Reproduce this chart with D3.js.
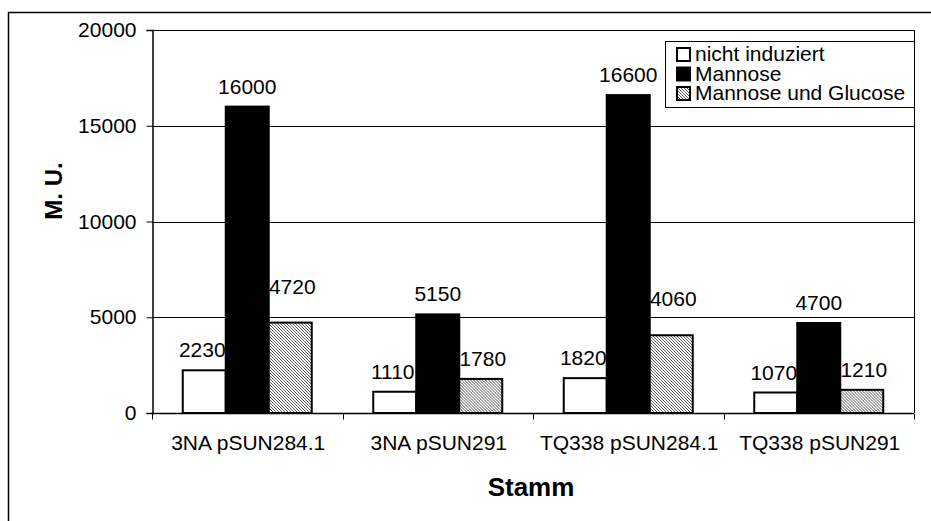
<!DOCTYPE html>
<html>
<head>
<meta charset="utf-8">
<script src="https://cdn.jsdelivr.net/npm/d3@7"></script>
<style>
  body { margin: 0; background: #fff; }
  text { font-family: Arial, "Liberation Sans", sans-serif; fill: #000; }
</style>
</head>
<body>
<div id="chart"></div>
<script>
// Data
var categories = ["3NA pSUN284.1", "3NA pSUN291", "TQ338 pSUN284.1", "TQ338 pSUN291"];
var seriesNames = ["nicht induziert", "Mannose", "Mannose und Glucose"];
var nichtInduziert = [2230, 1110, 1820, 1070];
var mannose = [16000, 5150, 16600, 4700];
var mannoseGlucose = [4720, 1780, 4060, 1210];
var yTicks = [0, 5000, 10000, 15000, 20000];

var seriesValues = [nichtInduziert, mannose, mannoseGlucose];

var width = 931,
    height = 521;
var plotLeft = 152, plotRight = 914, plotTop = 30, plotBottom = 413;

var svg = d3.select("#chart")
  .append("svg")
    .attr("width", width)
    .attr("height", height);

// hatch pattern for third series
var defs = svg.append("defs");
var pat = defs.append("pattern")
    .attr("id", "hatch")
    .attr("patternUnits", "userSpaceOnUse")
    .attr("width", 3)
    .attr("height", 3);
pat.append("rect").attr("width", 3).attr("height", 3).attr("fill", "#fff");
pat.append("path")
    .attr("d", "M0,0 L3,3 M-1,2 L1,4 M2,-1 L4,1")
    .attr("stroke", "#5a5a5a")
    .attr("stroke-width", 1);

var fills = ["#fff", "#000", "url(#hatch)"];

// outer frame (runs past the picture on right and bottom)
svg.append("rect")
    .attr("x", 8.5).attr("y", 12.5)
    .attr("width", 1000).attr("height", 600)
    .attr("fill", "none")
    .attr("stroke", "#000")
    .attr("stroke-width", 1.5);

// scales
var x0 = d3.scaleBand()
    .domain(categories)
    .range([plotLeft, plotRight])
    .paddingInner(0)
    .paddingOuter(0);

var x1 = d3.scaleBand()
    .domain(seriesNames)
    .range([0, x0.bandwidth()])
    .paddingInner(0)
    .paddingOuter(0.715);

var y = d3.scaleLinear()
    .domain([0, 20000])
    .range([plotBottom, plotTop]);

// gridlines
svg.append("g")
  .selectAll("line")
  .data(yTicks.slice(1))
  .enter().append("line")
    .attr("x1", plotLeft).attr("x2", plotRight)
    .attr("y1", function(d) { return Math.round(y(d)) + 0.5; })
    .attr("y2", function(d) { return Math.round(y(d)) + 0.5; })
    .attr("stroke", "#000")
    .attr("stroke-width", 1);

// plot area right border
svg.append("line")
    .attr("x1", plotRight + 0.5).attr("x2", plotRight + 0.5)
    .attr("y1", plotTop).attr("y2", plotBottom)
    .attr("stroke", "#000");

// bars
var groups = svg.append("g")
  .selectAll("g")
  .data(categories)
  .enter().append("g")
    .attr("transform", function(d) { return "translate(" + x0(d) + ",0)"; });

function rows(c, i) {
  return seriesNames.map(function(s, j) { return { s: s, j: j, v: seriesValues[j][i] }; });
}

groups.selectAll("rect")
  .data(rows)
  .enter().append("rect")
    .attr("x", function(d) { return x1(d.s); })
    .attr("y", function(d) { return y(d.v); })
    .attr("width", x1.bandwidth())
    .attr("height", function(d) { return plotBottom - y(d.v); })
    .attr("fill", function(d) { return fills[d.j]; })
    .attr("stroke", "#000")
    .attr("stroke-width", 2);

// value labels; two of them were lifted by hand in the original
var labelDx = [-2, 0, 2];
var labelLift = { 4720: 16, 4060: 16 };

groups.selectAll("text")
  .data(rows)
  .enter().append("text")
    .attr("x", function(d) { return x1(d.s) + x1.bandwidth() / 2 + labelDx[d.j]; })
    .attr("y", function(d) { return y(d.v) - 13 - (labelLift[d.v] || 0); })
    .attr("text-anchor", "middle")
    .style("font-size", "21px")
    .text(function(d) { return d.v; });

// y axis
var yAxis = d3.axisLeft(y)
    .tickValues(yTicks)
    .tickSize(6)
    .tickPadding(10)
    .tickFormat(d3.format("d"));
var ya = svg.append("g")
    .attr("transform", "translate(" + (plotLeft + 0.5) + ",0)")
    .call(yAxis);
ya.select(".domain").attr("stroke", "#000").attr("stroke-width", 1.5);
ya.selectAll("text").style("font-size", "21px").attr("font-family", null);

// x axis
var xa = svg.append("g")
    .attr("transform", "translate(0," + (plotBottom + 0.5) + ")");
xa.append("line")
    .attr("x1", plotLeft).attr("x2", plotRight)
    .attr("stroke", "#000").attr("stroke-width", 1.5);
xa.selectAll("line.tick")
  .data(categories.concat([null]))
  .enter().append("line")
    .attr("class", "tick")
    .attr("x1", function(d) { return d ? Math.round(x0(d)) + 0.5 : plotRight + 0.5; })
    .attr("x2", function(d) { return d ? Math.round(x0(d)) + 0.5 : plotRight + 0.5; })
    .attr("y1", 0).attr("y2", 6)
    .attr("stroke", "#000");
xa.selectAll("text")
  .data(categories)
  .enter().append("text")
    .attr("x", function(d) { return x0(d) + x0.bandwidth() / 2 + 1; })
    .attr("y", 36)
    .attr("text-anchor", "middle")
    .style("font-size", "21px")
    .text(function(d) { return d; });

// axis titles
svg.append("text")
    .attr("x", 531).attr("y", 496)
    .attr("text-anchor", "middle")
    .style("font-size", "26px")
    .style("font-weight", "bold")
    .text("Stamm");

svg.append("text")
    .attr("transform", "translate(62,191) rotate(-90)")
    .attr("text-anchor", "middle")
    .style("font-size", "24px")
    .style("font-weight", "bold")
    .text("M. U.");

// legend
var legend = svg.append("g").attr("transform", "translate(665,41)");
legend.append("rect")
    .attr("x", 0.5).attr("y", 0.5)
    .attr("width", 249).attr("height", 66)
    .attr("fill", "#fff")
    .attr("stroke", "#000");
var items = legend.selectAll("g.item")
  .data(seriesNames)
  .enter().append("g")
    .attr("class", "item")
    .attr("transform", function(d, i) { return "translate(0," + (13 + i * 19.5) + ")"; });
items.append("rect")
    .attr("x", 12).attr("y", -6)
    .attr("width", 13).attr("height", 13)
    .attr("fill", function(d, i) { return fills[i]; })
    .attr("stroke", "#000")
    .attr("stroke-width", 2);
items.append("text")
    .attr("x", 30).attr("y", 7)
    .style("font-size", "21px")
    .text(function(d) { return d; });
</script>
</body>
</html>
